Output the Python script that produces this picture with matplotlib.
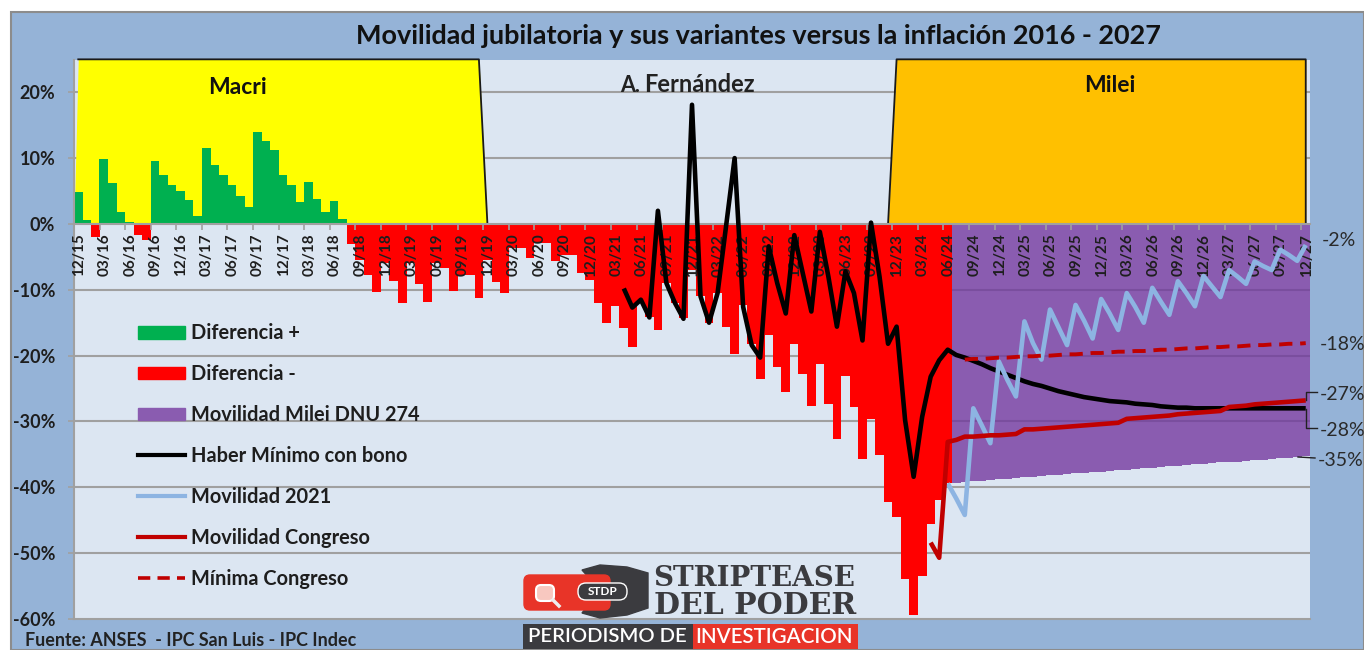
import matplotlib
matplotlib.use("Agg")
import matplotlib.pyplot as plt
from matplotlib.patches import Rectangle, FancyBboxPatch, Polygon, Patch
from matplotlib.lines import Line2D

plt.rcParams['font.family'] = ['Lato', 'DejaVu Sans']

W, H = 1364, 650

# ---------- data (percent) ----------
tick_labels = ["12/15","03/16","06/16","09/16","12/16","03/17","06/17","09/17","12/17","03/18","06/18",
               "09/18","12/18","03/19","06/19","09/19","12/19","03/20","06/20","09/20","12/20","03/21",
               "06/21","09/21","12/21","03/22","06/22","09/22","12/22","03/23","06/23","09/23","12/23",
               "03/24","06/24","09/24","12/24","03/25","06/25","09/25","12/25","03/26","06/26","09/26",
               "12/26","03/27","06/27","09/27","12/27"]

diferencia = [4.9,0.6,-2.0,9.8,6.2,1.8,0.3,-1.7,-2.4,9.5,7.4,5.9,5.0,3.6,1.2,11.6,8.9,7.4,5.9,4.2,2.6,
              14.0,12.6,11.2,7.5,5.9,3.3,6.4,3.8,1.8,3.5,0.8,-3.0,-5.5,-7.8,-10.4,-6.0,-8.6,-12.0,-6.0,
              -9.1,-11.8,-6.0,-6.7,-10.2,-7.8,-7.8,-11.3,-5.5,-8.8,-10.5,-3.7,-3.7,-5.2,-2.9,-2.9,-5.7,
              -4.7,-4.7,-7.5,-8.5,-12.0,-15.0,-12.5,-15.8,-18.7,-12.0,-14.2,-16.1,-9.0,-12.0,-14.3,-7.0,
              -11.0,-15.0,-10.5,-15.7,-19.7,-12.3,-18.3,-23.6,-16.9,-21.8,-25.5,-18.2,-22.8,-27.6,-21.2,
              -27.4,-32.7,-23.1,-27.8,-35.7,-29.6,-35.1,-42.3,-44.5,-54.0,-59.4,-53.5,-45.5,-42.0,-39.4]

milei_dnu = [-39.3,-39.2,-39.1,-39.0,-38.9,-38.8,-38.7,-38.6,-38.5,-38.4,-38.3,-38.2,-38.1,-38.0,
             -37.9,-37.8,-37.7,-37.6,-37.5,-37.4,-37.3,-37.2,-37.1,-37.0,-36.9,-36.8,-36.7,-36.6,
             -36.5,-36.4,-36.3,-36.2,-36.15,-36.1,-36.0,-35.9,-35.8,-35.7,-35.6,-35.5,-35.4,-35.3]

haber_start = 64
haber_minimo = [-9.8,-12.7,-11.5,-14.2,2.0,-9.0,-12.0,-14.4,18.1,-11.0,-15.0,-10.5,-0.3,10.0,-12.6,
                -18.4,-20.3,-3.4,-9.0,-13.6,-1.7,-7.5,-13.3,-1.2,-8.0,-15.6,-7.2,-10.5,-17.7,0.2,
                -8.0,-18.2,-15.6,-29.8,-38.4,-29.3,-23.2,-20.7,-19.1,-19.9,-20.3,-20.8,-21.3,-21.9,
                -22.4,-22.9,-23.4,-23.9,-24.3,-24.6,-25.0,-25.4,-25.7,-26.0,-26.3,-26.5,-26.7,-26.9,
                -27.0,-27.1,-27.3,-27.4,-27.5,-27.7,-27.8,-27.9,-27.9,-28.0,-28.0,-28.0,-28.0,-28.0,
                -28.0,-28.0,-28.0,-28.0,-28.0,-28.0,-28.0,-28.0,-28.0]

mov2021_start = 102
movilidad_2021 = [-39.4,-41.7,-44.2,-28.0,-30.6,-33.3,-20.9,-23.7,-26.2,-14.8,-18.1,-20.6,-13.0,-15.7,
                  -18.4,-12.3,-14.7,-17.4,-11.4,-13.6,-16.1,-10.5,-12.6,-15.0,-9.7,-11.8,-13.8,-8.7,
                  -10.5,-12.5,-7.9,-9.5,-11.1,-7.0,-8.0,-9.1,-5.7,-6.4,-7.0,-3.9,-4.7,-5.6,-3.2]

congreso_start = 100
movilidad_congreso = [-48.4,-50.7,-33.1,-32.8,-32.3,-32.3,-32.2,-32.1,-32.1,-32.0,-31.9,-31.2,-31.2,-31.1,
                      -31.0,-30.9,-30.8,-30.7,-30.6,-30.5,-30.4,-30.3,-30.2,-29.6,-29.5,-29.4,-29.3,-29.2,
                      -29.1,-28.9,-28.8,-28.7,-28.6,-28.5,-28.4,-27.8,-27.7,-27.6,-27.4,-27.3,-27.2,-27.1,
                      -27.0,-26.9,-26.8]

minima_start = 104
minima_congreso = [-20.6,-20.5,-20.5,-20.4,-20.3,-20.3,-20.2,-20.1,-20.1,-20.0,-20.0,-19.9,-19.8,-19.8,
                   -19.7,-19.6,-19.6,-19.5,-19.4,-19.4,-19.3,-19.3,-19.2,-19.1,-19.1,-19.0,-18.9,-18.9,
                   -18.8,-18.7,-18.7,-18.6,-18.6,-18.5,-18.4,-18.4,-18.3,-18.3,-18.2,-18.2,-18.1]

macri_area = [25]*48 + [0]
milei_start = 95
milei_area = [0] + [25]*49

y_ticks = [20,10,0,-10,-20,-30,-40,-50,-60]
legend_labels = ["Diferencia +","Diferencia -","Movilidad Milei DNU 274","Haber Mínimo con bono",
                 "Movilidad 2021","Movilidad Congreso","Mínima Congreso"]
end_labels = ["-2%","-18%","-27%","-28%","-35%"]

# ---------- colours ----------
C_BLUE="#95B3D7"; C_PLOT="#DCE6F2"; C_GRID="#A0A0A0"; C_TXT="#1E1E1E"
C_GREEN="#00B050"; C_RED="#FF0000"; C_PURPLE="#8A5CB0"; C_LBLUE="#8DB4E2"; C_DRED="#C00000"
LW=3.3

fig = plt.figure(figsize=(W/100, H/100), dpi=100, facecolor="white")
fig.add_artist(Rectangle((11/W,0),(W-11)/W,(H-12)/H,transform=fig.transFigure,
                         facecolor=C_BLUE,edgecolor="#8C8C8C",linewidth=1.5,zorder=-5))

ax = fig.add_axes([74/W,(H-619)/H,(1310-74)/W,(619-60)/H],facecolor=C_PLOT)
ax.set_xlim(0,145); ax.set_ylim(-60,24.9)
ax.set_axisbelow(False)

for v in y_ticks:
    if v != 0:
        ax.axhline(v,color=C_GRID,lw=1.5,zorder=0.5,clip_on=False if v==-60 else True)

# government background areas
mx=[i+0.5 for i in range(len(macri_area))]
ax.fill_between([0]+mx,[0]+macri_area,0,color="#FFFF00",lw=0,zorder=1)
ax.plot(mx,macri_area,color="#1a1a1a",lw=1.3,zorder=1.2,clip_on=False)
lx=[milei_start+i+0.5 for i in range(len(milei_area))]
ax.fill_between(lx,milei_area,0,color="#FFC000",lw=0,zorder=1)
ax.plot(lx+[lx[-1]],milei_area+[0],color="#1a1a1a",lw=1.3,zorder=1.2,clip_on=False)

# bars
for i,v in enumerate(diferencia):
    ax.bar(i+0.5,v,width=1.03,color=C_GREEN if v>0 else C_RED,lw=0,zorder=2)
p0=len(diferencia)
for i,v in enumerate(milei_dnu):
    ax.bar(p0+i+0.5,v,width=1.03,color=C_PURPLE,lw=0,zorder=2)
for v in (-10,-20,-30):
    ax.hlines(v,p0,145,color="#7A4E9E",lw=1.5,zorder=2.1)

# x axis on the zero line
ax.spines['bottom'].set_position(('data',0))
ax.spines['bottom'].set_color(C_GRID); ax.spines['bottom'].set_linewidth(1.5)
ax.spines['left'].set_color(C_GRID); ax.spines['left'].set_linewidth(1.5)
for s in ('top','right'):
    ax.spines[s].set_visible(False)
ax.set_xticks([3*k for k in range(len(tick_labels))])
ax.set_xticklabels([])
ax.tick_params(axis='x',which='major',length=4.5,width=1.2,color=C_GRID,direction='out')
ax.set_xticks([3*k+0.6 for k in range(len(tick_labels))],minor=True)
ax.set_xticklabels(tick_labels,minor=True,rotation=90,fontsize=11,fontweight='bold',color=C_TXT,va='top',ha='center')
ax.tick_params(axis='x',which='minor',length=0,pad=7)
ax.set_yticks(y_ticks)
ax.set_yticklabels([f"{v}%" for v in y_ticks],fontsize=13,fontweight='bold',color=C_TXT)
ax.tick_params(axis='y',length=4.5,width=1.2,color=C_GRID,pad=9)

# lines
kw=dict(solid_joinstyle='round',solid_capstyle='butt')
ax.plot([haber_start+i+0.5 for i in range(len(haber_minimo))],haber_minimo,color="black",lw=LW,zorder=4,**kw)
ax.plot([mov2021_start+i+0.5 for i in range(len(movilidad_2021))],movilidad_2021,color=C_LBLUE,lw=LW,zorder=4.2,**kw)
ax.plot([congreso_start+i+0.5 for i in range(len(movilidad_congreso))],movilidad_congreso,color=C_DRED,lw=LW,zorder=4.4,**kw)
ax.plot([minima_start+i+0.5 for i in range(len(minima_congreso))],minima_congreso,color=C_DRED,lw=2.8,zorder=4.6,dashes=(3.4,2.0))

# legend
handles=[Patch(color=C_GREEN),Patch(color=C_RED),Patch(color=C_PURPLE),
         Line2D([],[],color="black",lw=3),Line2D([],[],color=C_LBLUE,lw=3),
         Line2D([],[],color=C_DRED,lw=3),Line2D([],[],color=C_DRED,lw=2.6,dashes=(3.4,2.0))]
leg=ax.legend(handles,legend_labels,loc='upper left',bbox_to_anchor=((131-74)/1236,(619-316)/559),
              frameon=False,handlelength=2.35,handleheight=0.6,labelspacing=1.045,
              handletextpad=0.3,borderaxespad=0,borderpad=0.36,labelcolor=C_TXT,
              prop=dict(size=14.4,weight='bold'))
leg.set_zorder(5)

# overlay in pixel coordinates
ov=fig.add_axes([0,0,1,1],facecolor='none',zorder=10)
ov.set_xlim(0,W); ov.set_ylim(H,0); ov.axis('off')

ov.text(758,36,"Movilidad jubilatoria y sus variantes versus la inflación 2016 - 2027",
        ha='center',va='center',fontsize=19.45,fontweight='bold',color="#111111")
ov.text(237,87,"Macri",ha='center',va='center',fontsize=16.5,fontweight='bold',color="#111111")
ov.text(1110,85,"Milei",ha='center',va='center',fontsize=16.5,fontweight='bold',color="#111111")
ov.text(620,85,"A.",ha='left',va='center',fontsize=15.5,fontweight='bold',color="#222222")
ov.text(644,84,"Fernández",ha='left',va='center',fontsize=17,fontweight='bold',color="#222222")
ov.text(25,640,"Fuente: ANSES  - IPC San Luis - IPC Indec",ha='left',va='center',fontsize=12.9,fontweight='bold',color="#222222")

# end-of-line labels and leaders
for lab,x,y in zip(end_labels,(1322,1320,1320,1320,1318),(241,344,394,430,461)):
    ov.text(x,y,lab,ha='left',va='center',fontsize=14,color="#2a2a2a",clip_on=False)
ov.plot([1306,1306,1317],[400,392,392],color="#222222",lw=1,zorder=3)
ov.plot([1306,1306,1317],[409,428,428],color="#222222",lw=1,zorder=3)
ov.plot([1298,1315],[457,458],color="#222222",lw=1,zorder=3)

# logo
DK="#3B3B3F"; LR="#E83428"
ov.add_patch(Polygon([(582,570),(600,565),(627,567),(648,573),(648,608),(627,615),(600,618),(582,613),(600,590)],
                     closed=True,fc=DK,ec=DK,lw=1,zorder=5))
ov.add_patch(FancyBboxPatch((524,575),86,35,boxstyle="round,pad=0,rounding_size=6",fc=LR,ec=LR,lw=1,zorder=5.2))
ov.add_patch(FancyBboxPatch((578,583),49,17,boxstyle="round,pad=0,rounding_size=8",fc=DK,ec="white",lw=1,zorder=5.4))
ov.text(602.5,591.5,"STDP",ha='center',va='center',fontsize=8.5,fontweight='bold',color="white",zorder=5.6)
ov.add_patch(FancyBboxPatch((536,585),18,16,boxstyle="round,pad=0,rounding_size=5",fc="#F8C8C0",ec="white",lw=1.5,zorder=5.4))
ov.plot([553,559],[600,606],color="#EEEEEE",lw=2.5,zorder=5.4)
ov.text(754,579,"STRIPTEASE",ha='center',va='center',fontsize=20,fontweight='bold',family='DejaVu Serif',color=DK,zorder=5.6)
ov.text(755,605,"DEL PODER",ha='center',va='center',fontsize=21.5,fontweight='bold',family='DejaVu Serif',color=DK,zorder=5.6)
ov.add_patch(Rectangle((523,624),170,25,fc=DK,ec='none',zorder=5))
ov.add_patch(Rectangle((693,624),165,25,fc=LR,ec='none',zorder=5))
ov.text(528,637,"PERIODISMO DE",ha='left',va='center',fontsize=14.6,fontweight='semibold',color="white",zorder=5.6)
ov.text(695,637,"INVESTIGACION",ha='left',va='center',fontsize=14.8,fontweight='semibold',color="white",zorder=5.6)

fig.savefig("out.png",dpi=100,facecolor="white")
